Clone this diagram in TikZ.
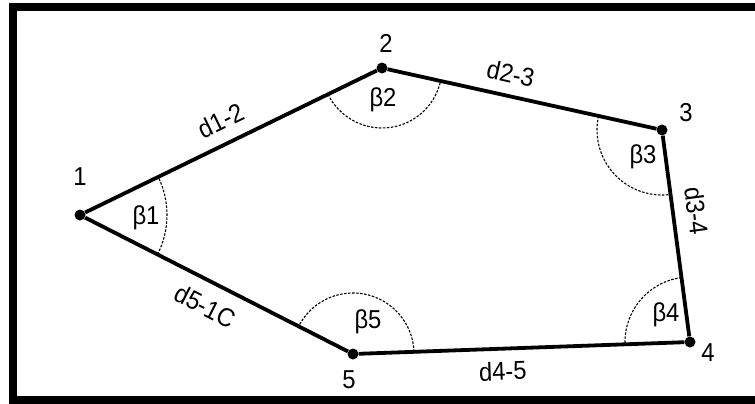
\documentclass[tikz,border=0pt]{standalone}
\usepackage{fontspec}
\setmainfont{Liberation Sans}[FakeStretch=0.92]
\usetikzlibrary{angles}

\begin{document}
\begin{tikzpicture}[x=1bp, y=1bp,
    font=\fontsize{26}{30}\selectfont,
    sommet/.style={circle, fill=black, inner sep=0pt, minimum size=11bp},
    cote/.style={line width=3.8bp},
    arcbeta/.style={draw, line width=1.1bp, dash pattern=on 2.5bp off 1.5bp},
    etiq/.style={sloped, inner sep=1bp}]
    \useasboundingbox (0,0) rectangle (755,403);
    
    % Cadre
    \begin{scope}
        \clip (0,0) rectangle (755,403);
        \draw[line width=8bp] (13,3) rectangle (770,396);
    \end{scope}
    
    % Sommets
    \node[sommet] (p1) at (80,188) {};
    \node[sommet] (p2) at (382,335) {};
    \node[sommet] (p3) at (662,273) {};
    \node[sommet] (p4) at (690,61) {};
    \node[sommet] (p5) at (353,49) {};
    
    % Numeros
    \node (n1) at (80,226) {1};
    \node (n2) at (386,360) {2};
    \node (n3) at (686,290) {3};
    \node (n4) at (708,50) {4};
    \node (n5) at (349,23) {5};
    
    % Cotes
    \draw[cote] (p1) -- (p2) node[etiq, pos=0.5, above=11bp] {d1-2};
    \draw[cote] (p2) -- (p3) node[etiq, pos=0.44, above=10bp] {d2-3};
    \draw[cote] (p3) -- (p4) node[etiq, pos=0.39, above=11bp] {d3-4};
    \draw[cote] (p5) -- (p4) node[etiq, pos=0.44, below=10bp] {d4-5};
    \draw[cote] (p1) -- (p5) node[etiq, pos=0.5, below=12bp] {d5-1C};
    
    % Angles
    \pic[arcbeta, angle radius=87bp] {angle=p5--p1--p2};
    \pic[arcbeta, angle radius=60bp] {angle=p1--p2--p3};
    \pic[arcbeta, angle radius=65bp] {angle=p2--p3--p4};
    \pic[arcbeta, angle radius=65bp] {angle=p3--p4--p5};
    \pic[arcbeta, angle radius=61bp] {angle=p4--p5--p1};
    \node (b1) at (146,185) {β1};
    \node (b2) at (383,303) {β2};
    \node (b3) at (643,246) {β3};
    \node (b4) at (666,88) {β4};
    \node (b5) at (368,81) {β5};
    
\end{tikzpicture}
\end{document}
